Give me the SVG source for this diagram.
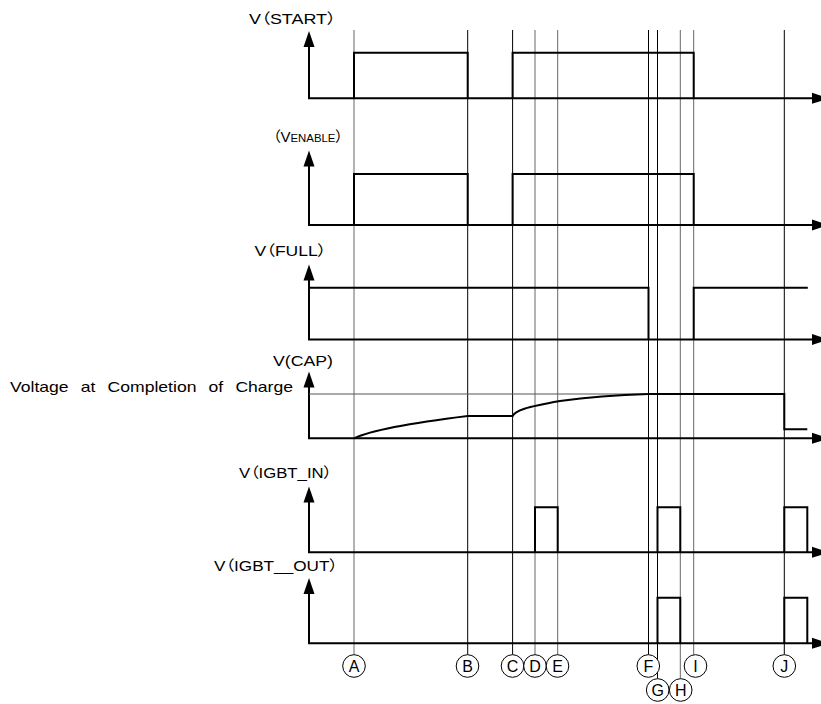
<svg xmlns="http://www.w3.org/2000/svg" width="821" height="704" viewBox="0 0 821 704">
<defs>
<style>
.lbl{font-family:"Liberation Sans","Noto Sans CJK JP",Arial,sans-serif;font-size:14.5px;fill:#000;font-feature-settings:"palt" 1}
.let{font-family:"Liberation Sans","Noto Sans CJK JP",Arial,sans-serif;font-size:16px;fill:#000;text-anchor:middle}
.ax{fill:none;stroke:#000;stroke-width:2}
.sig{fill:none;stroke:#000;stroke-width:2;stroke-linejoin:miter}
.mk{stroke:#000;stroke-width:1;fill:none}
.mkg{stroke:#666;stroke-width:1;fill:none}
.cir{fill:#fff;stroke:#000;stroke-width:1}
.ah{fill:#000}
.ref{stroke:#555;stroke-width:1;fill:none}
</style>
</defs>
<rect width="821" height="704" fill="#fff"/>

<g id="markers">
<line class="mkg" x1="354" y1="30" x2="354" y2="654.7"/>
<line class="mk" x1="467.7" y1="30" x2="467.7" y2="654.7"/>
<line class="mk" x1="512.6" y1="30" x2="512.6" y2="654.7"/>
<line class="mkg" x1="535" y1="30" x2="535" y2="654.7"/>
<line class="mkg" x1="557.7" y1="30" x2="557.7" y2="654.7"/>
<line class="mk" x1="648.5" y1="30" x2="648.5" y2="654.7"/>
<line class="mk" x1="657.5" y1="30" x2="657.5" y2="678.7"/>
<line class="mkg" x1="680.3" y1="30" x2="680.3" y2="678.7"/>
<line class="mkg" x1="693.7" y1="30" x2="693.7" y2="654.7"/>
<line class="mk" x1="784.3" y1="30" x2="784.3" y2="654.7"/>
</g>

<g id="connectors">
<polyline class="ax" points="309,44 309,98.3 812,98.3"/>
<polyline class="ax" points="309,164 309,225 812,225"/>
<polyline class="ax" points="309,278 309,339.5 812,339.5"/>
<polyline class="ax" points="309,385 309,438.3 812,438.3"/>
<polyline class="ax" points="309,500 309,552.3 812,552.3"/>
<polyline class="ax" points="309,592 309,643.3 812,643.3"/>
<polygon class="ah" points="309,31 303.5,47 314.5,47"/>
<polygon class="ah" points="309,150.5 303.5,166.5 314.5,166.5"/>
<polygon class="ah" points="309,264.5 303.5,280.5 314.5,280.5"/>
<polygon class="ah" points="309,371.5 303.5,387.5 314.5,387.5"/>
<polygon class="ah" points="309,486.5 303.5,502.5 314.5,502.5"/>
<polygon class="ah" points="309,578 303.5,594 314.5,594"/>
<polygon class="ah" points="829,98.3 812,92.8 812,103.8"/>
<polygon class="ah" points="829,225 812,219.5 812,230.5"/>
<polygon class="ah" points="829,339.5 812,334 812,345"/>
<polygon class="ah" points="829,438.3 812,432.8 812,443.8"/>
<polygon class="ah" points="829,552.3 812,546.8 812,557.8"/>
<polygon class="ah" points="829,643.3 812,637.8 812,648.8"/>
</g>

<g id="sig-start">
<polyline class="sig" points="354,98.3 354,52.7 467.7,52.7 467.7,98.3"/>
<polyline class="sig" points="512.6,98.3 512.6,52.7 693.7,52.7 693.7,98.3"/>
<text class="lbl" x="249" y="24" textLength="87" lengthAdjust="spacingAndGlyphs">V（START）</text>
</g>

<g id="sig-enable">
<polyline class="sig" points="354,225 354,174 467.7,174 467.7,225"/>
<polyline class="sig" points="512.6,225 512.6,174 693.7,174 693.7,225"/>
<text class="lbl" x="273" y="142" textLength="70" lengthAdjust="spacingAndGlyphs">（V<tspan font-size="11">ENABLE</tspan>）</text>
</g>

<g id="sig-full">
<polyline class="sig" points="309,287.8 648.5,287.8 648.5,339.5"/>
<polyline class="sig" points="693.7,339.5 693.7,287.8 807.8,287.8"/>
<text class="lbl" x="254.5" y="256" textLength="72" lengthAdjust="spacingAndGlyphs">V（FULL）</text>
</g>

<g id="sig-cap">
<line class="ref" x1="309" y1="394" x2="648.5" y2="394"/>
<path class="sig" d="M354,438.3 Q378,427 467.7,416 L512.6,416 C515,410.5 526,407 560,401 C590,397 620,395 648.5,394 L784.3,394 L784.3,429.3 L807.3,429.3"/>
<text class="lbl" x="273" y="366" textLength="60" lengthAdjust="spacingAndGlyphs">V(CAP)</text>
<text class="lbl" x="10" y="392" font-size="16.5" word-spacing="6" textLength="283" lengthAdjust="spacingAndGlyphs">Voltage at Completion of Charge</text>
</g>

<g id="sig-igbt-in">
<polyline class="sig" points="535,552.3 535,507.3 557.7,507.3 557.7,552.3"/>
<polyline class="sig" points="657.5,552.3 657.5,507.3 680.3,507.3 680.3,552.3"/>
<polyline class="sig" points="784.3,552.3 784.3,507.3 807.3,507.3 807.3,552.3"/>
<text class="lbl" x="239" y="478" textLength="93" lengthAdjust="spacingAndGlyphs">V（IGBT_IN）</text>
</g>

<g id="sig-igbt-out">
<polyline class="sig" points="657.5,643.3 657.5,597.7 680.3,597.7 680.3,643.3"/>
<polyline class="sig" points="784.3,643.3 784.3,597.7 807.3,597.7 807.3,643.3"/>
<text class="lbl" x="214" y="571" textLength="124" lengthAdjust="spacingAndGlyphs">V（IGBT__OUT）</text>
</g>

<g id="label-A"><circle class="cir" cx="354" cy="666" r="11.3"/><text class="let" x="354" y="671.8">A</text></g>
<g id="label-B"><circle class="cir" cx="467.5" cy="666" r="11.3"/><text class="let" x="467.5" y="671.8">B</text></g>
<g id="label-C"><circle class="cir" cx="512.5" cy="666" r="11.3"/><text class="let" x="512.5" y="671.8">C</text></g>
<g id="label-D"><circle class="cir" cx="535" cy="666" r="11.3"/><text class="let" x="535" y="671.8">D</text></g>
<g id="label-E"><circle class="cir" cx="557.5" cy="666" r="11.3"/><text class="let" x="557.5" y="671.8">E</text></g>
<g id="label-F"><circle class="cir" cx="648.3" cy="666" r="11.3"/><text class="let" x="648.3" y="671.8">F</text></g>
<g id="label-G"><circle class="cir" cx="657.7" cy="690" r="11.3"/><text class="let" x="657.7" y="695.8">G</text></g>
<g id="label-H"><circle class="cir" cx="680.7" cy="690" r="11.3"/><text class="let" x="680.7" y="695.8">H</text></g>
<g id="label-I"><circle class="cir" cx="695.5" cy="666" r="11.3"/><text class="let" x="695.5" y="671.8">I</text></g>
<g id="label-J"><circle class="cir" cx="784.3" cy="666" r="11.3"/><text class="let" x="784.3" y="671.8">J</text></g>
</svg>
